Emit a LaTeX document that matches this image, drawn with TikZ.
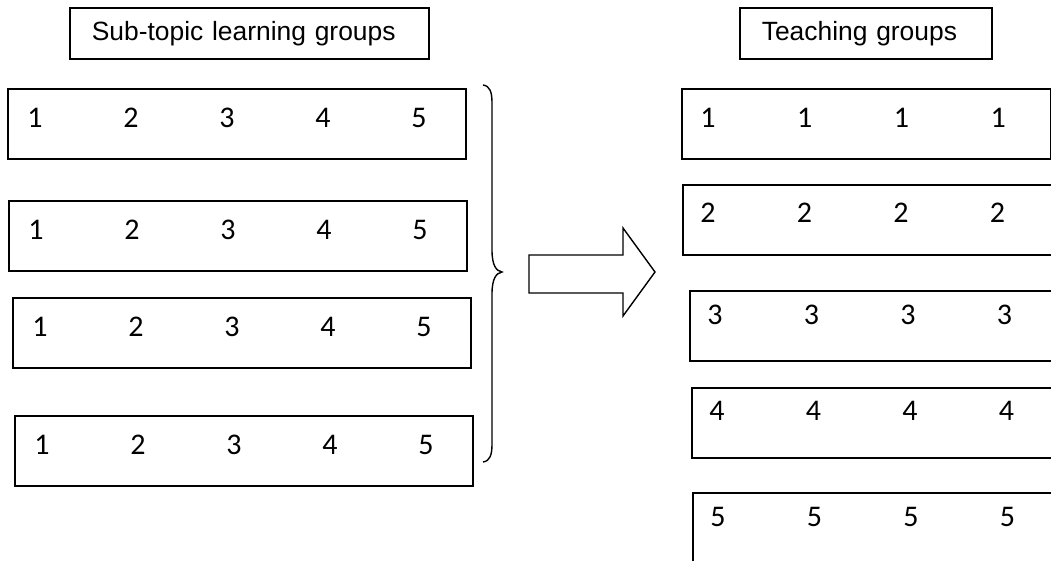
\documentclass[tikz,border=0pt]{standalone}
\usepackage{fontspec}
\setmainfont{Liberation Sans}
\newfontfamily\digitfont{Carlito}

\tikzset{
  groupbox/.style={draw, line width=1.6pt, anchor=north west, inner sep=0pt},
  headbox/.style={draw, line width=1.6pt, anchor=north west, inner xsep=22pt,
    align=left, minimum height=51pt, font=\fontsize{26.4}{30}\selectfont},
  digit/.style={inner sep=0pt, font=\digitfont\fontsize{30}{33}\selectfont},
}

\begin{document}
\begin{tikzpicture}[x=1pt, y=-1pt]
  \useasboundingbox (0,0) rectangle (1051,561);
  \clip (0,0) rectangle (1051,561);

  % headings
  \node[headbox, text width=315pt] (subtopic) at (69,7) {Sub-topic learning groups};
  \node[headbox, text width=208pt] (teaching) at (739,7) {Teaching groups};

  % sub-topic groups, each one holds members 1..5
  \foreach \row/\left/\top in {1/7/88, 2/8/200, 3/12/297, 4/14/415} {
    \node[groupbox, minimum width=458pt, minimum height=70pt] (l\row) at (\left,\top) {};
    \foreach \k in {1,...,5}
      \node[digit] (l\row-\k) at ({\left+28+96*(\k-1)},{\top+30}) {\k};
  }

  % teaching groups, run off the right side
  \node[groupbox, minimum width=369pt, minimum height=70pt] (r1) at (681,88) {};
  \foreach \k in {1,...,4}
    \node[digit] (r1-\k) at ({681+27+96.7*(\k-1)},118) {1};
  \foreach \row/\left/\top/\dy in {2/682/184/29, 3/689/290/25, 4/691/387/24, 5/692/492/25} {
    \node[groupbox, minimum width=420pt, minimum height=70pt] (r\row) at (\left,\top) {};
    \foreach \k in {1,...,4}
      \node[digit] (r\row-\k) at ({\left+26+96.5*(\k-1)},{\top+\dy}) {\row};
  }

  % brace round the left groups
  \draw[line width=1.4pt]
    (483,85) .. controls (490,86) and (492,92) .. (492,103) -- (492,250)
    .. controls (492,265) and (496,271) .. (502,272)
    .. controls (496,273) and (492,279) .. (492,294) -- (492,444)
    .. controls (492,455) and (490,461) .. (483,462);

  % block arrow
  \draw[line width=1.4pt, line join=miter]
    (529,255) -- (623,255) -- (623,228) -- (655,272) -- (623,316)
    -- (623,293) -- (529,293) -- cycle;
\end{tikzpicture}
\end{document}
